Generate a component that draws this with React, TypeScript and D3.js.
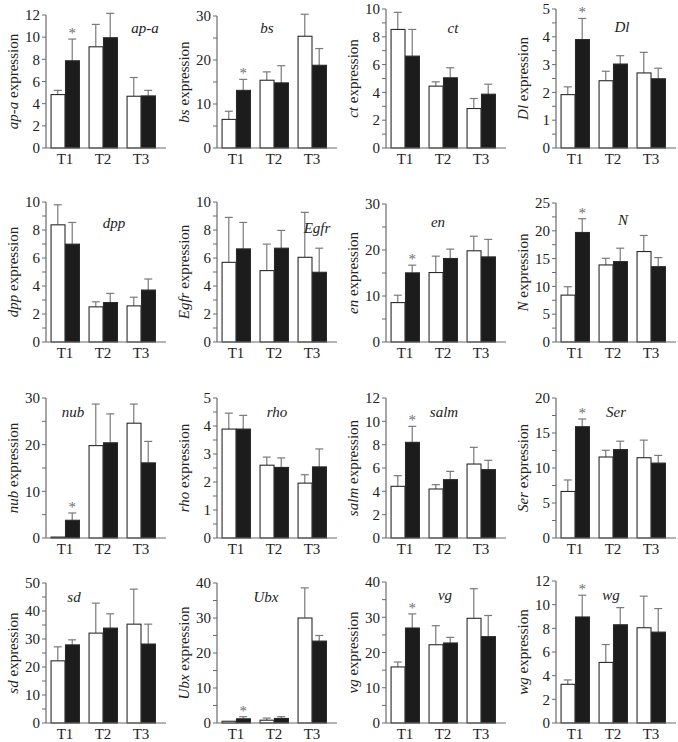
import * as d3 from "d3";

// genes in reading order, 4 per row
const GENES = ["ap-a", "bs", "ct", "Dl", "dpp", "Egfr", "en", "N", "nub", "rho", "salm", "Ser", "sd", "Ubx", "vg", "wg"];
const SEGMENTS = ["T1", "T2", "T3"];

// axis maximum, labelled tick step, minor tick step (0 = none)
const Y_MAX = [12, 30, 10, 5, 10, 10, 30, 25, 30, 5, 12, 20, 50, 40, 40, 12];
const Y_STEP = [2, 10, 2, 1, 2, 2, 10, 5, 10, 1, 2, 5, 10, 10, 10, 2];
const Y_MINOR = [0, 5, 1, 0.5, 1, 1, 5, 2.5, 5, 0.5, 0, 2.5, 5, 5, 5, 0];

// white bars (control) mean and SE, per gene T1..T3
const CTRL_MEAN = [
  [4.82, 9.13, 4.67], [6.5, 15.4, 25.4], [8.53, 4.45, 2.84], [1.92, 2.42, 2.7],
  [8.37, 2.51, 2.58], [5.69, 5.1, 6.05], [8.57, 15.1, 19.83], [8.43, 13.86, 16.27],
  [0.2, 19.8, 24.6], [3.89, 2.6, 1.96], [4.43, 4.2, 6.34], [6.65, 11.57, 11.47],
  [22.2, 32.1, 35.3], [0.5, 0.8, 30.0], [15.9, 22.2, 29.7], [3.27, 5.12, 8.05],
];
const CTRL_SE = [
  [0.38, 2.02, 1.69], [1.85, 1.9, 5.0], [1.23, 0.31, 0.72], [0.28, 0.34, 0.74],
  [1.43, 0.36, 0.62], [3.21, 1.89, 3.21], [1.6, 3.56, 3.17], [1.51, 1.2, 2.89],
  [0, 8.9, 4.1], [0.57, 0.29, 0.3], [0.91, 0.37, 1.43], [1.64, 0.96, 2.51],
  [5.0, 10.7, 12.5], [0, 0.6, 8.6], [1.4, 5.4, 8.4], [0.37, 1.51, 2.67],
];
// black bars (treatment) mean and SE
const TRT_MEAN = [
  [7.87, 9.95, 4.7], [13.1, 14.8, 18.8], [6.61, 5.05, 3.87], [3.9, 3.02, 2.49],
  [6.99, 2.82, 3.71], [6.65, 6.7, 4.98], [15.03, 18.15, 18.5], [19.7, 14.46, 13.55],
  [3.8, 20.4, 16.1], [3.89, 2.52, 2.54], [8.2, 5.0, 5.86], [15.9, 12.63, 10.7],
  [27.9, 33.9, 28.2], [1.2, 1.3, 23.4], [26.95, 22.7, 24.5], [8.96, 8.3, 7.68],
];
const TRT_SE = [
  [1.96, 2.2, 0.5], [2.5, 3.9, 3.8], [1.92, 0.72, 0.72], [0.76, 0.3, 0.38],
  [1.55, 0.65, 0.79], [1.89, 1.27, 1.72], [1.67, 2.04, 3.8], [2.47, 2.41, 1.63],
  [1.56, 6.2, 4.6], [0.49, 0.34, 0.64], [1.37, 0.71, 0.8], [1.1, 1.2, 1.1],
  [1.8, 5.1, 7.1], [0.6, 0.5, 1.6], [4.0, 1.6, 6.0], [1.84, 1.45, 1.99],
];
// asterisk over the T1 black bar
const SIG_T1 = [true, true, false, true, false, false, true, true, true, false, true, true, false, true, true, true];

// layout
const COL_X = [46, 217, 386, 556];
const ROW_BASE = [148, 342, 538, 723];
const PANEL_TOP = [15, 16, 9, 9, 202, 202, 204, 203, 398, 398, 398, 398, 583, 583, 582, 581];
const LABEL_POS: [number, number][] = [
  [99, 13], [50, 12], [67, 19], [66, 18],
  [68, 21], [100, 26], [52, 18], [67, 17],
  [27, 14], [60, 14], [58, 14], [60, 14],
  [28, 14], [49, 14], [59, 13], [55, 14],
];

const FONT = "'Liberation Serif', 'Times New Roman', serif";
const AXIS = "#6b6b6b";
const ERR = "#7a7a7a";

function Panel({ i }: { i: number }) {
  const col = i % 4;
  const row = Math.floor(i / 4);
  const x0 = COL_X[col];
  const base = ROW_BASE[row];
  const top = PANEL_TOP[i];

  const y = d3.scaleLinear().domain([0, Y_MAX[i]]).range([base, top]);
  const x = d3.scaleBand().domain(SEGMENTS).range([x0, x0 + 114]).paddingInner(0.24).paddingOuter(0.12);
  const bw = x.bandwidth() / 2;

  const major = d3.range(0, Y_MAX[i] + 1e-9, Y_STEP[i]);
  const minor = Y_MINOR[i] ? d3.range(0, Y_MAX[i] + 1e-9, Y_MINOR[i]).filter((v) => !major.some((m) => Math.abs(m - v) < 1e-9)) : [];

  const bars = SEGMENTS.flatMap((s, j) => [
    { key: `c${j}`, x: x(s)!, mean: CTRL_MEAN[i][j], se: CTRL_SE[i][j], fill: "#ffffff", sig: false },
    { key: `t${j}`, x: x(s)! + bw, mean: TRT_MEAN[i][j], se: TRT_SE[i][j], fill: "#1c1c1c", sig: j === 0 && SIG_T1[i] },
  ]);

  const gene = GENES[i];
  const midY = (base + top) / 2;

  return (
    <g fontFamily={FONT}>
      {/* error bars first, bars drawn over them */}
      {bars.map((b) =>
        b.se > 0 ? (
          <g key={`e${b.key}`} stroke={ERR} strokeWidth={1.2}>
            <line x1={b.x + bw / 2} x2={b.x + bw / 2} y1={y(b.mean)} y2={y(b.mean + b.se)} />
            <line x1={b.x + bw / 2 - 4} x2={b.x + bw / 2 + 4} y1={y(b.mean + b.se)} y2={y(b.mean + b.se)} />
          </g>
        ) : null
      )}
      {bars.map((b) => (
        <rect
          key={b.key}
          x={b.x + 0.5}
          y={y(b.mean)}
          width={bw - 0.5}
          height={base - y(b.mean)}
          fill={b.fill}
          stroke="#2a2a2a"
          strokeWidth={1.1}
        />
      ))}
      {bars.filter((b) => b.sig).map((b) => (
        <text
          key={`s${b.key}`}
          transform={`translate(${b.x + bw / 2},${y(b.mean + b.se) - 1}) rotate(0.01)`}
          textAnchor="middle"
          fontSize={15}
          fill="#6e6e6e"
        >
          *
        </text>
      ))}

      {/* axes */}
      <line x1={x0} x2={x0} y1={top} y2={base} stroke={AXIS} strokeWidth={1.2} />
      <line x1={x0} x2={x0 + 120} y1={base} y2={base} stroke={AXIS} strokeWidth={1.2} />
      {major.map((v) => (
        <g key={`m${v}`}>
          <line x1={x0 - 4} x2={x0} y1={y(v)} y2={y(v)} stroke={AXIS} strokeWidth={1} />
          <text x={x0 - 6} y={y(v)} dy="0.35em" textAnchor="end" fontSize={15} fill="#222">
            {v}
          </text>
        </g>
      ))}
      {minor.map((v) => (
        <line key={`n${v}`} x1={x0 - 4} x2={x0} y1={y(v)} y2={y(v)} stroke={AXIS} strokeWidth={1} />
      ))}
      {SEGMENTS.map((s) => (
        <text key={s} x={x(s)! + x.bandwidth() / 2} y={base + 16} textAnchor="middle" fontSize={15} fill="#222">
          {s}
        </text>
      ))}

      {/* y title */}
      <text
        transform={`translate(${x0 - 33},${midY}) rotate(-90)`}
        textAnchor="middle"
        dy="0.32em"
        fontSize={15}
        fill="#222"
      >
        <tspan fontStyle="italic">{gene}</tspan> expression
      </text>

      {/* gene label */}
      <text x={x0 + LABEL_POS[i][0]} y={top + LABEL_POS[i][1]} dy="0.35em" textAnchor="middle" fontSize={15} fontStyle="italic" fill="#222">
        {gene}
      </text>
    </g>
  );
}

export default function App() {
  return (
    <svg width={678} height={742} viewBox="0 0 678 742" style={{ position: "absolute", left: 0, top: 0, background: "#fff" }}>
      <rect width={678} height={742} fill="#fff" />
      {GENES.map((g, i) => (
        <Panel key={g} i={i} />
      ))}
    </svg>
  );
}
